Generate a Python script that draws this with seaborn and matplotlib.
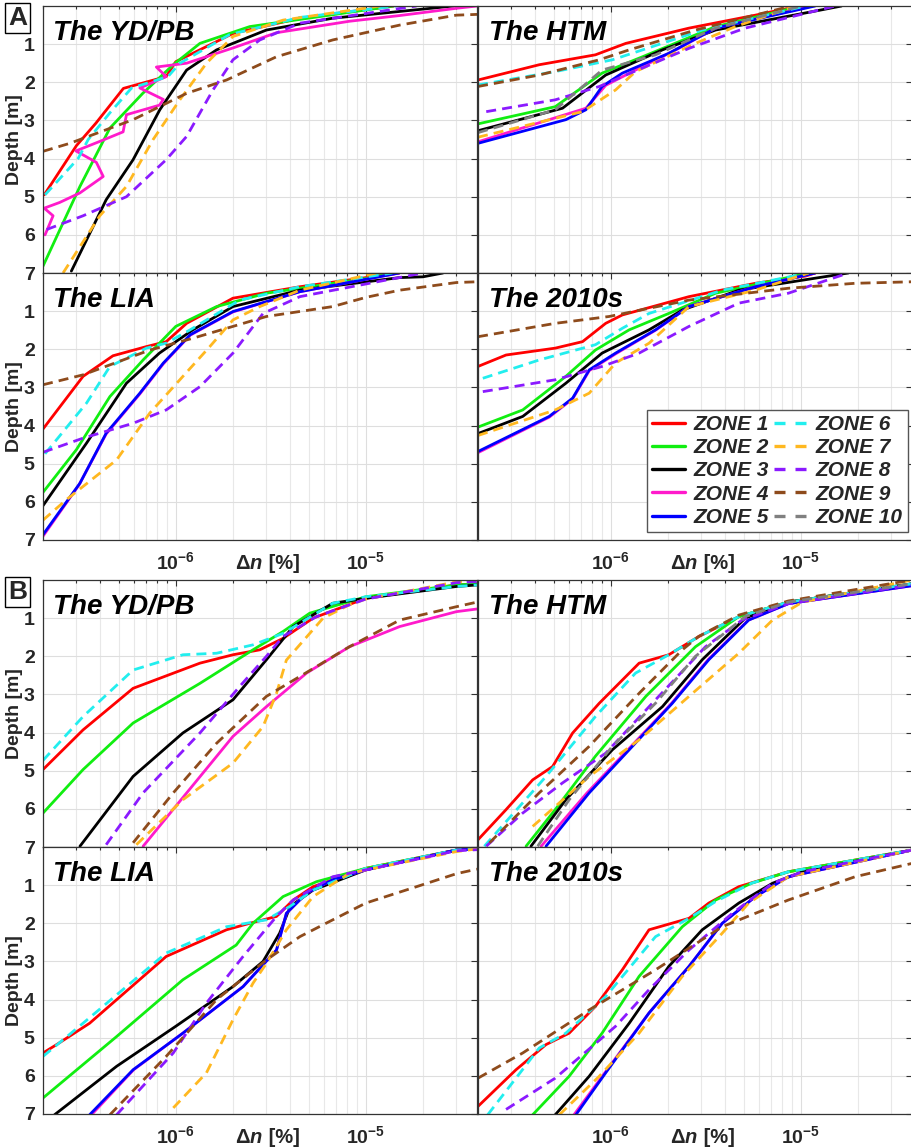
import numpy as np
import pandas as pd
import matplotlib
matplotlib.use('Agg')
import matplotlib.pyplot as plt
from matplotlib.lines import Line2D
from matplotlib.ticker import LogLocator, NullFormatter, FixedLocator
import seaborn as sns

sns.set_theme(style='white')
plt.rcParams['font.family'] = ['Liberation Sans', 'DejaVu Sans']
plt.rcParams['mathtext.fontset'] = 'custom'
plt.rcParams['mathtext.rm'] = 'Liberation Sans:bold'
plt.rcParams['mathtext.bf'] = 'Liberation Sans:bold'
plt.rcParams['mathtext.it'] = 'Liberation Sans:bold:italic'

# ---------------- data ----------------
ZONES = [f'ZONE {i}' for i in range(1, 11)]
ZONE_COLORS = ['#FF0000', '#11EE11', '#000000', '#FF1ACB', '#0000FF',
               '#22EEEE', '#FFB820', '#8B1AFF', '#8E4B1C', '#808080']
ZONE_DASHED = [False, False, False, False, False, True, True, True, True, True]

PANEL_TITLES = ['The YD/PB', 'The HTM', 'The LIA', 'The 2010s']
X_TICKS = [1e-6, 1e-5]
X_TICK_LABELS = [r'$\mathbf{10^{-6}}$', r'$\mathbf{10^{-5}}$']
Y_TICKS = [1, 2, 3, 4, 5, 6, 7]

# each entry: zone -> (delta n [%], depth [m])
A_YDPB = {
    1: ([2.03e-7, 3.0e-7, 3.8e-7, 5.3e-7, 8.9e-7, 1.0e-6, 2.0e-6, 4.5e-6, 1.4e-5],
        [4.95, 3.66, 3.07, 2.16, 1.85, 1.46, 0.72, 0.32, 0.0]),
    2: ([2.0e-7, 3.13e-7, 4.5e-7, 6.7e-7, 9.7e-7, 1.34e-6, 2.45e-6, 1.4e-5],
        [6.82, 4.73, 3.2, 2.29, 1.54, 0.98, 0.54, 0.0]),
    3: ([2.82e-7, 4.3e-7, 5.96e-7, 8.24e-7, 1.14e-6, 1.64e-6, 3.0e-6, 6.7e-6, 2.9e-5],
        [6.95, 5.08, 4.03, 2.72, 1.68, 1.15, 0.63, 0.32, 0.0]),
    4: ([2.05e-7, 2.26e-7, 2.03e-7, 2.45e-7, 3.13e-7, 4.15e-7, 3.82e-7, 2.98e-7, 3.98e-7, 5.28e-7,
         5.5e-7, 8.2e-7, 8.6e-7, 6.47e-7, 8.9e-7, 7.9e-7, 1.14e-6, 2.0e-6, 3.39e-6, 8.2e-6,
         1.51e-5, 3.0e-5, 3.85e-5],
        [6.0, 5.5, 5.3, 5.15, 4.9, 4.47, 4.1, 3.8, 3.55, 3.3,
         2.85, 2.6, 2.45, 2.15, 1.85, 1.6, 1.5, 1.1, 0.7, 0.4,
         0.25, 0.06, 0.0]),
    6: ([2.05e-7, 3.06e-7, 3.46e-7, 4.5e-7, 5.85e-7, 9.1e-7, 1.05e-6, 1.92e-6, 4.5e-6, 1.45e-5],
        [4.95, 4.0, 3.5, 2.8, 2.15, 1.85, 1.5, 0.75, 0.3, 0.0]),
    7: ([2.55e-7, 3.98e-7, 5.5e-7, 7.6e-7, 1.05e-6, 1.45e-6, 2.0e-6, 3.67e-6, 1.19e-5],
        [7.0, 5.5, 4.73, 3.5, 2.46, 1.5, 0.8, 0.37, 0.0]),
    8: ([2.09e-7, 3.25e-7, 5.5e-7, 8.9e-7, 1.14e-6, 1.57e-6, 2.0e-6, 2.77e-6, 4.5e-6, 1.85e-5],
        [5.86, 5.5, 5.0, 4.03, 3.42, 2.2, 1.41, 0.89, 0.45, 0.0]),
    9: ([2.0e-7, 2.77e-7, 5.96e-7, 1.14e-6, 1.85e-6, 3.39e-6, 6.7e-6, 1.51e-5, 3.0e-5, 3.85e-5],
        [3.81, 3.6, 2.98, 2.29, 1.94, 1.33, 0.89, 0.5, 0.24, 0.22]),
}

A_HTM = {
    1: ([2.0e-7, 4.2e-7, 8.3e-7, 1.2e-6, 2.58e-6, 5.77e-6, 9.8e-6],
        [1.94, 1.54, 1.28, 0.98, 0.58, 0.24, 0.0]),
    2: ([2.0e-7, 5.1e-7, 9.0e-7, 1.47e-6, 3.56e-6, 1.01e-5],
        [3.09, 2.64, 1.76, 1.33, 0.54, 0.0]),
    3: ([2.0e-7, 5.57e-7, 9.4e-7, 1.87e-6, 3.56e-6, 1.29e-5, 1.64e-5],
        [3.27, 2.68, 1.81, 1.15, 0.63, 0.1, 0.0]),
    4: ([2.0e-7, 7.4e-7, 9.4e-7, 1.3e-6, 2.2e-6, 3.56e-6, 1.15e-5],
        [3.56, 2.68, 2.08, 1.72, 1.15, 0.58, 0.0]),
    5: ([2.0e-7, 5.8e-7, 7.4e-7, 9.0e-7, 1.15e-6, 2.02e-6, 3.56e-6, 1.19e-5],
        [3.6, 2.98, 2.72, 2.11, 1.76, 1.24, 0.58, 0.0]),
    6: ([2.0e-7, 5.1e-7, 1.02e-6, 1.47e-6, 3.03e-6, 1.06e-5],
        [2.07, 1.72, 1.41, 1.15, 0.63, 0.0]),
    7: ([2.0e-7, 7.1e-7, 1.06e-6, 1.35e-6, 2.79e-6, 4.53e-6, 9.35e-6],
        [3.44, 2.77, 2.2, 1.72, 0.98, 0.54, 0.0]),
    8: ([2.21e-7, 5.1e-7, 8.7e-7, 1.2e-6, 2.58e-6, 5.1e-6, 1.52e-5],
        [2.77, 2.46, 2.11, 1.81, 1.11, 0.58, 0.0]),
    9: ([2.0e-7, 4.2e-7, 8.7e-7, 1.25e-6, 2.79e-6, 8.6e-6],
        [2.11, 1.81, 1.41, 1.15, 0.63, 0.02]),
    10: ([2.0e-7, 5.1e-7, 9.0e-7, 1.72e-6, 3.56e-6, 1.01e-5],
         [3.32, 2.72, 1.68, 1.28, 0.58, 0.0]),
}

A_LIA = {
    1: ([2.0e-7, 3.25e-7, 4.67e-7, 7.0e-7, 8.9e-7, 1.14e-6, 2.0e-6, 4.5e-6, 1.5e-5],
        [4.09, 2.71, 2.17, 1.93, 1.8, 1.32, 0.66, 0.36, 0.0]),
    2: ([2.0e-7, 3.0e-7, 4.5e-7, 6.73e-7, 1.0e-6, 1.64e-6, 3.0e-6, 1.01e-5, 1.4e-5],
        [5.75, 4.63, 3.24, 2.28, 1.4, 0.88, 0.53, 0.14, 0.0]),
    3: ([2.0e-7, 3.39e-7, 5.5e-7, 8.2e-7, 1.23e-6, 2.0e-6, 4.5e-6, 1.51e-5, 2.0e-5, 2.55e-5],
        [6.1, 4.46, 2.89, 2.1, 1.49, 0.88, 0.45, 0.12, 0.1, 0.0]),
    4: ([2.0e-7, 3.1e-7, 4.3e-7, 6.47e-7, 8.6e-7, 1.19e-6, 2.0e-6, 4.5e-6, 1.5e-5],
        [6.9, 5.55, 4.22, 3.17, 2.38, 1.63, 1.02, 0.49, 0.0]),
    5: ([2.0e-7, 3.13e-7, 4.3e-7, 6.47e-7, 8.6e-7, 1.19e-6, 2.0e-6, 4.5e-6, 1.5e-5],
        [6.86, 5.51, 4.2, 3.15, 2.36, 1.62, 1.01, 0.49, 0.0]),
    6: ([2.05e-7, 3.39e-7, 4.5e-7, 7.0e-7, 8.9e-7, 1.19e-6, 2.17e-6, 4.5e-6, 1.38e-5],
        [4.74, 3.41, 2.45, 1.97, 1.84, 1.49, 0.71, 0.36, 0.0]),
    7: ([2.0e-7, 2.66e-7, 4.88e-7, 7.3e-7, 1.05e-6, 1.51e-6, 2.0e-6, 2.77e-6, 4.5e-6, 1.14e-5],
        [6.48, 5.94, 4.9, 3.67, 2.8, 1.93, 1.23, 0.88, 0.45, 0.0]),
    8: ([2.0e-7, 3.25e-7, 5.96e-7, 8.9e-7, 1.34e-6, 2.0e-6, 2.88e-6, 4.5e-6, 2.0e-5],
        [4.7, 4.33, 3.94, 3.59, 2.98, 2.1, 1.06, 0.62, 0.0]),
    9: ([2.0e-7, 3.25e-7, 7.3e-7, 1.23e-6, 2.0e-6, 3.0e-6, 6.7e-6, 1.0e-5, 1.51e-5, 3.0e-5, 3.85e-5],
        [2.93, 2.67, 2.02, 1.71, 1.4, 1.14, 0.88, 0.64, 0.45, 0.25, 0.23]),
}

A_2010S = {
    1: ([2.0e-7, 2.81e-7, 5.1e-7, 7.1e-7, 9.4e-7, 1.15e-6, 2.58e-6, 5.77e-6, 1.06e-5, 1.19e-5],
        [2.45, 2.15, 1.97, 1.8, 1.32, 1.1, 0.62, 0.27, 0.08, 0.0]),
    2: ([2.0e-7, 3.44e-7, 5.8e-7, 8.3e-7, 1.25e-6, 2.02e-6, 3.56e-6, 1.1e-5],
        [4.04, 3.59, 2.71, 2.02, 1.49, 1.06, 0.53, 0.0]),
    3: ([2.0e-7, 3.44e-7, 5.8e-7, 9.0e-7, 1.59e-6, 2.38e-6, 4.72e-6, 1.78e-5],
        [4.21, 3.76, 2.89, 2.1, 1.49, 0.97, 0.45, 0.0]),
    4: ([2.0e-7, 4.74e-7, 6.3e-7, 7.7e-7, 1.06e-6, 1.72e-6, 2.58e-6, 5.77e-6, 1.19e-5],
        [4.71, 3.78, 3.3, 2.56, 2.12, 1.5, 0.88, 0.36, 0.0]),
    5: ([2.0e-7, 4.74e-7, 6.3e-7, 7.7e-7, 1.06e-6, 1.72e-6, 2.58e-6, 5.77e-6, 1.19e-5],
        [4.68, 3.76, 3.28, 2.54, 2.1, 1.49, 0.88, 0.36, 0.0]),
    6: ([2.12e-7, 4.2e-7, 8.3e-7, 1.15e-6, 1.59e-6, 3.86e-6, 1.1e-5],
        [2.76, 2.28, 1.88, 1.45, 1.06, 0.45, 0.0]),
    7: ([2.0e-7, 5.1e-7, 7.7e-7, 1.06e-6, 1.59e-6, 2.58e-6, 5.77e-6, 1.1e-5],
        [4.26, 3.59, 3.15, 2.36, 1.84, 0.88, 0.45, 0.0]),
    8: ([2.12e-7, 5.1e-7, 9.0e-7, 1.41e-6, 2.58e-6, 4.72e-6, 8.6e-6, 1.78e-5],
        [3.11, 2.8, 2.45, 2.1, 1.4, 0.79, 0.53, 0.0]),
    9: ([2.0e-7, 5.1e-7, 9.8e-7, 2.58e-6, 8.6e-6, 1.93e-5, 3.85e-5],
        [1.67, 1.32, 1.14, 0.71, 0.4, 0.27, 0.23]),
}

B_YDPB = {
    1: ([2.0e-7, 3.25e-7, 5.96e-7, 1.34e-6, 2.0e-6, 2.77e-6, 3.67e-6, 5.28e-6, 1.0e-5, 3.0e-5, 3.85e-5],
        [4.97, 3.93, 2.84, 2.18, 1.96, 1.83, 1.53, 1.0, 0.48, 0.13, 0.1]),
    2: ([2.0e-7, 3.25e-7, 5.96e-7, 1.34e-6, 2.55e-6, 3.67e-6, 5.07e-6, 1.0e-5, 3.0e-5, 3.85e-5],
        [6.11, 4.97, 3.75, 2.71, 1.83, 1.35, 0.87, 0.44, 0.13, 0.1]),
    3: ([3.13e-7, 5.96e-7, 1.09e-6, 2.0e-6, 3.0e-6, 4.15e-6, 6.7e-6, 1.0e-5, 3.0e-5, 3.85e-5],
        [6.98, 5.15, 4.01, 3.14, 2.09, 1.22, 0.61, 0.48, 0.17, 0.13]),
    4: ([6.73e-7, 1.0e-6, 2.0e-6, 3.0e-6, 4.88e-6, 8.2e-6, 1.51e-5, 3.0e-5, 3.85e-5],
        [6.98, 5.93, 4.1, 3.32, 2.44, 1.75, 1.22, 0.83, 0.76]),
    6: ([2.0e-7, 3.25e-7, 5.96e-7, 1.09e-6, 1.64e-6, 2.55e-6, 3.67e-6, 6.7e-6, 1.0e-5, 3.0e-5, 3.85e-5],
        [4.73, 3.58, 2.36, 1.96, 1.92, 1.7, 1.4, 0.61, 0.44, 0.17, 0.13]),
    7: ([6.2e-7, 1.09e-6, 2.0e-6, 2.88e-6, 3.39e-6, 3.82e-6, 5.07e-6, 5.96e-6, 8.2e-6, 1.0e-5, 3.0e-5, 3.85e-5],
        [6.94, 5.76, 4.8, 3.84, 2.97, 2.1, 1.4, 1.0, 0.65, 0.5, 0.05, 0.0]),
    8: ([4.3e-7, 6.73e-7, 1.34e-6, 2.17e-6, 3.0e-6, 3.67e-6, 5.5e-6, 1.0e-5, 3.0e-5, 3.85e-5],
        [6.94, 5.58, 4.01, 2.79, 2.0, 1.48, 0.96, 0.5, 0.07, 0.04]),
    9: ([5.96e-7, 9.7e-7, 1.64e-6, 3.0e-6, 5.5e-6, 8.2e-6, 1.51e-5, 3.0e-5, 3.85e-5],
        [6.89, 5.58, 4.28, 3.05, 2.27, 1.75, 1.05, 0.7, 0.58]),
}

B_HTM = {
    1: ([2.0e-7, 2.81e-7, 3.88e-7, 4.94e-7, 6.3e-7, 8.7e-7, 1.41e-6, 2.02e-6, 2.91e-6, 4.72e-6, 8.6e-6, 3.85e-5],
        [6.81, 6.02, 5.24, 4.89, 4.01, 3.23, 2.18, 1.96, 1.48, 0.96, 0.58, 0.1]),
    2: ([3.58e-7, 5.1e-7, 8.3e-7, 1.53e-6, 2.79e-6, 4.72e-6, 8.6e-6, 3.85e-5],
        [6.98, 6.02, 4.62, 3.05, 1.75, 0.96, 0.58, 0.1]),
    3: ([3.8e-7, 5.8e-7, 1.02e-6, 1.87e-6, 3.03e-6, 5.1e-6, 8.6e-6, 3.85e-5],
        [6.98, 5.76, 4.45, 3.32, 2.09, 1.0, 0.58, 0.1]),
    4: ([4.3e-7, 7.5e-7, 1.28e-6, 2.09e-6, 3.25e-6, 5.3e-6, 8.6e-6, 3.85e-5],
        [6.98, 5.58, 4.36, 3.23, 2.09, 1.05, 0.62, 0.15]),
    5: ([4.56e-7, 7.7e-7, 1.3e-6, 2.11e-6, 3.28e-6, 5.32e-6, 8.6e-6, 3.85e-5],
        [6.98, 5.58, 4.36, 3.23, 2.09, 1.05, 0.62, 0.15]),
    6: ([2.16e-7, 4.56e-7, 8.3e-7, 1.35e-6, 2.02e-6, 2.91e-6, 4.72e-6, 8.6e-6, 3.85e-5],
        [6.98, 5.15, 3.58, 2.44, 1.96, 1.48, 0.96, 0.58, 0.1]),
    7: ([3.88e-7, 7.7e-7, 1.41e-6, 2.58e-6, 4.72e-6, 7.1e-6, 1.02e-5, 3.85e-5],
        [6.46, 5.15, 4.19, 3.05, 1.92, 1.05, 0.58, 0.0]),
    8: ([2.21e-7, 3.44e-7, 5.57e-7, 9.4e-7, 1.72e-6, 3.15e-6, 4.91e-6, 8.6e-6, 3.85e-5],
        [6.98, 6.11, 5.32, 4.54, 3.14, 1.75, 1.05, 0.62, 0.13]),
    9: ([2.3e-7, 4.2e-7, 7.7e-7, 1.41e-6, 2.38e-6, 2.9e-6, 4.72e-6, 8.6e-6, 3.85e-5],
        [6.89, 5.58, 4.36, 2.97, 1.83, 1.48, 0.92, 0.55, 0.0]),
    10: ([4.12e-7, 6.04e-7, 1.02e-6, 1.72e-6, 2.79e-6, 5.1e-6, 8.6e-6, 3.85e-5],
         [6.98, 5.76, 4.36, 3.23, 2.0, 0.96, 0.58, 0.1]),
}

B_LIA = {
    1: ([2.0e-7, 2.36e-7, 3.52e-7, 8.9e-7, 1.85e-6, 2.45e-6, 3.39e-6, 4.15e-6, 5.28e-6, 6.7e-6, 1.0e-5, 3.0e-5, 3.85e-5],
        [5.4, 5.18, 4.62, 2.87, 2.17, 2.0, 1.82, 1.39, 1.04, 0.86, 0.56, 0.08, 0.05]),
    2: ([2.0e-7, 4.88e-7, 1.09e-6, 2.08e-6, 2.55e-6, 3.67e-6, 5.5e-6, 1.0e-5, 3.0e-5, 3.85e-5],
        [6.58, 4.97, 3.48, 2.57, 2.0, 1.3, 0.91, 0.56, 0.08, 0.05]),
    3: ([2.3e-7, 4.88e-7, 1.0e-6, 2.0e-6, 2.88e-6, 3.52e-6, 4.0e-6, 5.28e-6, 1.0e-5, 3.0e-5, 3.85e-5],
        [7.02, 5.75, 4.7, 3.66, 3.0, 2.26, 1.56, 1.13, 0.6, 0.08, 0.05]),
    4: ([3.6e-7, 6.0e-7, 1.09e-6, 2.26e-6, 3.39e-6, 3.82e-6, 4.88e-6, 6.7e-6, 1.0e-5, 3.0e-5, 3.85e-5],
        [7.02, 5.84, 4.88, 3.66, 2.7, 1.74, 1.21, 0.86, 0.6, 0.08, 0.05]),
    5: ([3.52e-7, 5.96e-7, 1.09e-6, 2.26e-6, 3.39e-6, 3.82e-6, 4.88e-6, 6.7e-6, 1.0e-5, 3.0e-5, 3.85e-5],
        [7.02, 5.84, 4.88, 3.66, 2.7, 1.74, 1.21, 0.86, 0.6, 0.08, 0.05]),
    6: ([2.0e-7, 3.25e-7, 8.9e-7, 1.85e-6, 3.0e-6, 3.98e-6, 5.28e-6, 1.0e-5, 3.0e-5, 3.85e-5],
        [5.49, 4.62, 2.78, 2.09, 1.91, 1.56, 1.13, 0.56, 0.08, 0.05]),
    7: ([9.7e-7, 1.45e-6, 2.0e-6, 2.55e-6, 3.0e-6, 3.82e-6, 5.28e-6, 8.2e-6, 3.0e-5, 3.85e-5],
        [6.84, 5.92, 4.53, 3.57, 3.05, 2.17, 1.3, 0.69, 0.12, 0.05]),
    8: ([4.88e-7, 9.7e-7, 1.45e-6, 2.26e-6, 3.39e-6, 4.15e-6, 6.7e-6, 1.0e-5, 3.0e-5, 3.85e-5],
        [7.02, 5.4, 4.09, 2.87, 1.82, 1.39, 0.78, 0.6, 0.1, 0.07]),
    9: ([4.5e-7, 8.9e-7, 1.64e-6, 3.0e-6, 4.5e-6, 6.7e-6, 1.0e-5, 1.85e-5, 3.0e-5, 3.85e-5],
        [7.02, 5.49, 4.0, 2.96, 2.35, 1.91, 1.47, 1.04, 0.7, 0.58]),
}

B_2010S = {
    1: ([2.0e-7, 3.17e-7, 4.56e-7, 6.04e-7, 8.3e-7, 1.15e-6, 1.59e-6, 2.58e-6, 3.28e-6, 4.72e-6, 8.6e-6, 3.85e-5],
        [6.8, 5.84, 5.18, 4.88, 4.18, 3.22, 2.17, 1.87, 1.47, 1.04, 0.65, 0.08]),
    2: ([3.88e-7, 6.04e-7, 9.0e-7, 1.41e-6, 2.38e-6, 3.56e-6, 5.5e-6, 8.6e-6, 3.85e-5],
        [7.02, 6.01, 4.88, 3.39, 2.09, 1.39, 0.95, 0.65, 0.08]),
    3: ([5.1e-7, 7.7e-7, 1.25e-6, 2.02e-6, 3.03e-6, 4.72e-6, 7.1e-6, 1.02e-5, 3.85e-5],
        [7.02, 6.01, 4.62, 3.13, 2.17, 1.47, 0.95, 0.65, 0.08]),
    4: ([6.4e-7, 9.3e-7, 1.59e-6, 2.58e-6, 3.86e-6, 5.77e-6, 8.6e-6, 3.85e-5],
        [7.02, 5.92, 4.35, 3.13, 2.0, 1.3, 0.78, 0.08]),
    5: ([6.55e-7, 9.4e-7, 1.59e-6, 2.58e-6, 3.86e-6, 5.77e-6, 8.6e-6, 3.85e-5],
        [7.02, 5.92, 4.35, 3.13, 2.0, 1.3, 0.78, 0.08]),
    6: ([2.25e-7, 4.2e-7, 5.8e-7, 9.4e-7, 1.72e-6, 2.58e-6, 3.56e-6, 5.5e-6, 8.6e-6, 3.85e-5],
        [7.02, 5.27, 4.88, 3.92, 2.35, 1.87, 1.43, 0.95, 0.65, 0.08]),
    7: ([5.36e-7, 8.7e-7, 1.41e-6, 2.38e-6, 3.86e-6, 5.32e-6, 8.6e-6, 3.85e-5],
        [7.02, 6.01, 4.88, 3.39, 2.26, 1.47, 0.78, 0.08]),
    8: ([2.81e-7, 5.1e-7, 1.06e-6, 1.59e-6, 2.58e-6, 4.36e-6, 7.1e-6, 1.02e-5, 3.85e-5],
        [6.88, 6.06, 4.7, 3.74, 2.7, 1.74, 0.95, 0.65, 0.08]),
    9: ([2.0e-7, 3.44e-7, 7.7e-7, 1.72e-6, 3.86e-6, 8.6e-6, 1.93e-5, 3.85e-5],
        [6.06, 5.4, 4.27, 3.22, 2.09, 1.39, 0.78, 0.43]),
}

# ---------------- figure ----------------
W, H = 912, 1148
fig = plt.figure(figsize=(W / 100, H / 100), dpi=100)

col_left = [43 / W, 478 / W]
ax_w = 434 / W
row_bottom = [1 - 273 / H, 1 - 540 / H, 1 - 847 / H, 1 - 1114 / H]
ax_h = 267 / H
XLIM = (2e-7, 3.85e-5)

palette = dict(zip(ZONES, ZONE_COLORS))
dash_map = {z: ((3.6, 2.2) if d else "") for z, d in zip(ZONES, ZONE_DASHED)}

panels = [
    (A_YDPB, 0, 0, PANEL_TITLES[0]),
    (A_HTM, 0, 1, PANEL_TITLES[1]),
    (A_LIA, 1, 0, PANEL_TITLES[2]),
    (A_2010S, 1, 1, PANEL_TITLES[3]),
    (B_YDPB, 2, 0, PANEL_TITLES[0]),
    (B_HTM, 2, 1, PANEL_TITLES[1]),
    (B_LIA, 3, 0, PANEL_TITLES[2]),
    (B_2010S, 3, 1, PANEL_TITLES[3]),
]

axes = {}
for data, r, c, title in panels:
    ax = fig.add_axes([col_left[c], row_bottom[r], ax_w, ax_h])
    axes[(r, c)] = ax
    ax.set_xscale('log')
    rows = []
    for z, (dn, dep) in data.items():
        for xv, yv in zip(dn, dep):
            rows.append((f'ZONE {z}', xv, yv))
    df = pd.DataFrame(rows, columns=['zone', 'dn', 'depth'])
    present = [z for z in ZONES if z in set(df['zone'])]
    sns.lineplot(data=df, x='dn', y='depth', hue='zone', style='zone',
                 hue_order=present, style_order=present,
                 palette={z: palette[z] for z in present},
                 dashes={z: dash_map[z] for z in present},
                 sort=False, estimator=None, linewidth=2.0, legend=False, ax=ax)
    ax.set_xlim(*XLIM)
    ax.set_ylim(7, 0)
    ax.set_xlabel('')
    ax.set_ylabel('')
    ax.xaxis.set_major_locator(FixedLocator(X_TICKS))
    ax.xaxis.set_minor_locator(LogLocator(base=10, subs=np.arange(2, 10)))
    ax.xaxis.set_minor_formatter(NullFormatter())
    ax.set_yticks(Y_TICKS)
    ax.grid(True, which='major', color='#dedede', lw=0.8)
    ax.grid(True, which='minor', axis='x', color='#e8e8e8', lw=0.8)
    ax.set_axisbelow(True)
    ax.tick_params(which='both', direction='in', top=True, right=True,
                   color='#333333', width=0.8)
    ax.tick_params(which='major', length=4)
    ax.tick_params(which='minor', length=2.5)
    ax.tick_params(axis='y', pad=6, labelsize=14)
    ax.tick_params(axis='x', pad=8, labelsize=14)
    for sp in ax.spines.values():
        sp.set_color('#333333')
        sp.set_linewidth(0.9)
    bottom_row = r in (1, 3)
    if bottom_row:
        ax.set_xticklabels(X_TICK_LABELS)
        ax.text(0.507, -0.108, r'$\Delta n$', transform=ax.transAxes,
                ha='right', va='baseline', fontsize=14.5, fontweight='bold',
                style='italic')
        ax.text(0.507, -0.108, ' [%]', transform=ax.transAxes,
                ha='left', va='baseline', fontsize=14.5, fontweight='bold')
    else:
        ax.set_xticklabels([])
    if c == 0:
        ax.set_yticklabels([str(v) for v in Y_TICKS], fontweight='bold')
        ax.set_ylabel('Depth [m]', fontsize=14, fontweight='bold')
        ax.yaxis.set_label_coords(-0.046, 0.5)
    else:
        ax.set_yticklabels([])
    ax.text(0.024 if c == 0 else 0.025, 0.873, title, transform=ax.transAxes,
            fontsize=20, fontweight='bold', style='italic', ha='left',
            va='baseline', color='black', zorder=5)

# Legend in the A / 2010s panel
handles = [Line2D([0], [0], color=col, lw=2.4,
                  linestyle=(0, (3.3, 3.0)) if d else '-')
           for col, d in zip(ZONE_COLORS, ZONE_DASHED)]
leg = axes[(1, 1)].legend(handles, ZONES, ncol=2, loc='lower right',
                          bbox_to_anchor=(908 / W, 1 - 532 / H),
                          bbox_transform=fig.transFigure,
                          prop=dict(family='Liberation Sans', weight='bold',
                                    style='italic', size=15),
                          frameon=True, fancybox=False, framealpha=1,
                          edgecolor='#555555', handlelength=1.6,
                          handletextpad=0.4, columnspacing=0.25,
                          labelspacing=0.2, borderpad=0.25, borderaxespad=0)
leg.get_frame().set_linewidth(1.0)
leg.set_zorder(10)

# Group labels A / B
for letter, yc in (('A', 18), ('B', 592)):
    fig.text(17.5 / W, 1 - yc / H, letter, fontsize=19, fontweight='bold',
             ha='center', va='center',
             bbox=dict(boxstyle='square,pad=0.12', fc='white', ec='black', lw=1.0))

fig.savefig('out.png', dpi=100)
